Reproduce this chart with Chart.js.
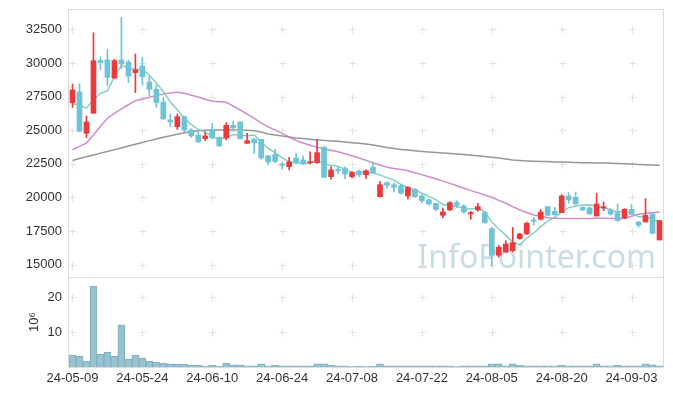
<!DOCTYPE html>
<html>
<head>
<meta charset="utf-8">
<script src="https://cdn.jsdelivr.net/npm/chart.js@4"></script>
<style>
  html, body { margin: 0; padding: 0; background: #fff; }
  #wrap { width: 673px; height: 396px; }
</style>
</head>
<body>
<div id="wrap"><canvas id="chart"></canvas></div>
<script>
// --- Data ---
const dates = [
  "24-05-09", "24-05-10", "24-05-13", "24-05-14", "24-05-16", "24-05-17", "24-05-20", "24-05-21", "24-05-22", "24-05-23",
  "24-05-24", "24-05-27", "24-05-28", "24-05-29", "24-05-30", "24-05-31", "24-06-03", "24-06-04", "24-06-05", "24-06-07",
  "24-06-10", "24-06-11", "24-06-12", "24-06-13", "24-06-14", "24-06-17", "24-06-18", "24-06-19", "24-06-20", "24-06-21",
  "24-06-24", "24-06-25", "24-06-26", "24-06-27", "24-06-28", "24-07-01", "24-07-02", "24-07-03", "24-07-04", "24-07-05",
  "24-07-08", "24-07-09", "24-07-10", "24-07-11", "24-07-12", "24-07-15", "24-07-16", "24-07-17", "24-07-18", "24-07-19",
  "24-07-22", "24-07-23", "24-07-24", "24-07-25", "24-07-26", "24-07-29", "24-07-30", "24-07-31", "24-08-01", "24-08-02",
  "24-08-05", "24-08-06", "24-08-07", "24-08-08", "24-08-09", "24-08-12", "24-08-13", "24-08-14", "24-08-16", "24-08-19",
  "24-08-20", "24-08-21", "24-08-22", "24-08-23", "24-08-26", "24-08-27", "24-08-28", "24-08-29", "24-08-30", "24-09-02",
  "24-09-03", "24-09-04", "24-09-05", "24-09-06", "24-09-09"
];

const opens = [
  27050, 27850, 24780, 26270, 30200, 30230, 28890, 30230, 30080, 29290,
  29780, 28590, 28050, 27100, 25770, 25270, 26010, 25020, 24630, 24380,
  25020, 24480, 24430, 25370, 25620, 24030, 24330, 24330, 23090, 23190,
  22490, 22290, 22940, 22790, 22590, 22590, 23740, 21550, 22100, 22140,
  21550, 21950, 21700, 22250, 20060, 21110, 20950, 20860, 20110, 20610,
  20110, 19820, 19570, 18680, 19070, 19620, 19370, 18780, 19070, 18870,
  17680, 15700, 15950, 16040, 16940, 17290, 18330, 18380, 19320, 18970,
  18870, 20110, 20010, 19270, 19220, 18620, 19220, 19020, 18870, 18480,
  19120, 18180, 18180, 18770, 16840
];
const highs = [
  28450, 28450, 26060, 32260, 30450, 31030, 30280, 33400, 30230, 30680,
  30430, 28990, 28350, 27460, 26210, 26210, 26050, 25120, 24970, 24870,
  25520, 24500, 25570, 25670, 25620, 24780, 24430, 24330, 23140, 23590,
  22590, 22990, 23290, 23090, 23390, 24330, 23790, 22290, 22290, 22290,
  21950, 22050, 22050, 22640, 21210, 21160, 21100, 21000, 20810, 20660,
  20210, 19910, 19570, 19220, 19670, 19760, 19470, 18970, 19570, 18970,
  17780, 16440, 16790, 17780, 17340, 18180, 18530, 19120, 19320, 19270,
  20210, 20360, 20410, 19320, 19320, 20310, 19670, 19170, 19520, 19170,
  19470, 18230, 19910, 18820, 18280
];
const lows = [
  26700, 24870, 24450, 26270, 29500, 28350, 28840, 29580, 28540, 27800,
  28350, 27550, 26710, 25800, 25270, 25070, 24900, 24480, 24080, 24230,
  24380, 23800, 24280, 24930, 24330, 24030, 23290, 22840, 22440, 22590,
  22100, 22050, 22490, 22440, 22490, 22540, 21500, 21360, 21750, 21400,
  21450, 21550, 21400, 21800, 20020, 20710, 20410, 20260, 19870, 20010,
  19620, 19420, 19020, 18480, 19020, 19270, 18820, 18380, 18970, 18080,
  14900, 15550, 15890, 15950, 16890, 17240, 17930, 18330, 18630, 18680,
  18870, 19570, 19470, 19020, 18770, 18620, 19020, 18680, 18230, 18430,
  18720, 17780, 18180, 17290, 16840
];
const closes = [
  28000, 24930, 25620, 30180, 30030, 28940, 30180, 29930, 29040, 29490,
  28990, 28050, 27050, 25860, 25620, 26010, 25020, 24580, 24130, 24580,
  24430, 23830, 25370, 25170, 24380, 24230, 24080, 22940, 22640, 22690,
  22400, 22640, 22590, 22490, 22640, 23340, 21500, 22050, 21990, 21750,
  21850, 21700, 22000, 21850, 20950, 20910, 20760, 20310, 20760, 20060,
  19760, 19520, 19120, 18920, 19620, 19420, 18920, 18870, 19320, 18130,
  15700, 16300, 16540, 16640, 17290, 18080, 18230, 18920, 18680, 18720,
  20110, 19820, 19520, 19070, 18770, 19520, 19320, 18770, 18280, 19120,
  18770, 17930, 18680, 17340, 18280
];

// moving averages as drawn (5 / 20 / 60 day)
const ma5 = [
  26950, 26900, 26650, 27250, 27750, 27940, 28990, 29850, 29620, 29520,
  29530, 29100, 28520, 27890, 27110, 26520, 25910, 25420, 25070, 24860,
  24550, 24310, 24470, 24680, 24640, 24600, 24650, 24160, 23650, 23320,
  22950, 22660, 22590, 22560, 22550, 22740, 22510, 22400, 22300, 22130,
  21830, 21870, 21860, 21830, 21670, 21480, 21290, 20960, 20740, 20560,
  20330, 20080, 19840, 19480, 19390, 19320, 19200, 19150, 19230, 18930,
  18190, 17660, 17200, 16660, 16490, 16970, 17360, 17830, 18240, 18530,
  18930, 19250, 19370, 19450, 19460, 19340, 19240, 19090, 18930, 19000,
  18850, 18570, 18560, 18370, 18200
];
const ma20 = [
  23550, 23800, 24050, 24650, 25300, 25900, 26250, 26600, 26900, 27200,
  27330, 27460, 27580, 27700, 27770, 27830, 27750, 27610, 27480, 27310,
  27160, 27120, 27080, 26800, 26510, 26200, 25880, 25560, 25250, 25010,
  24770, 24500, 24230, 24060, 23890, 23730, 23620, 23520, 23410, 23260,
  23110, 22940, 22760, 22590, 22420, 22250, 22160, 22080, 21990, 21840,
  21700, 21550, 21390, 21220, 21050, 20870, 20690, 20510, 20360, 20180,
  20010, 19790, 19570, 19320, 19070, 18880, 18700, 18600, 18500, 18460,
  18430, 18430, 18430, 18430, 18440, 18450, 18450, 18440, 18430, 18440,
  18600, 18750, 18820, 18870, 18920
];
const ma60 = [
  22760, 22895, 23030, 23160, 23300, 23420, 23560, 23690, 23830, 23960,
  24090, 24230, 24350, 24480, 24590, 24700, 24820, 24910, 24970, 25010,
  25020, 25020, 25020, 25020, 25020, 25010, 24970, 24880, 24730, 24650,
  24580, 24500, 24430, 24390, 24330, 24280, 24250, 24210, 24180, 24130,
  24080, 24030, 23980, 23900, 23810, 23720, 23640, 23580, 23530, 23480,
  23430, 23390, 23350, 23310, 23270, 23230, 23190, 23150, 23100, 23050,
  22990, 22930, 22860, 22790, 22750, 22720, 22700, 22680, 22670, 22650,
  22640, 22620, 22610, 22590, 22580, 22570, 22560, 22550, 22530, 22510,
  22490, 22460, 22440, 22420, 22400
];

// volume in millions
const volumes = [
  3.4, 3.1, 1.7, 23.2, 3.7, 4.3, 3.1, 12.1, 2.3, 3.4,
  2.6, 1.7, 1.4, 1.1, 0.9, 0.85, 0.85, 0.5, 0.5, 0.2,
  0.5, 0.2, 1.1, 0.6, 0.6, 0.3, 0.3, 0.9, 0.3, 0.5,
  0.3, 0.3, 0.3, 0.3, 0.3, 0.9, 0.9, 0.5, 0.3, 0.3,
  0.1, 0.25, 0.1, 0.25, 0.9, 0.3, 0.3, 0.3, 0.3, 0.3,
  0.3, 0.3, 0.3, 0.3, 0.3, 0.1, 0.3, 0.3, 0.3, 0.3,
  0.9, 0.9, 0.3, 0.9, 0.5, 0.3, 0.3, 0.3, 0.3, 0.3,
  0.5, 0.3, 0.3, 0.3, 0.3, 0.9, 0.3, 0.3, 0.5, 0.3,
  0.3, 0.3, 0.9, 0.6, 0.3
];

const priceTicks = [15000, 17500, 20000, 22500, 25000, 27500, 30000, 32500];
const volumeTicks = [10, 20];
const labelEvery = 10;

// --- Styles ---
const UP = "#ec3a3c";
const DOWN = "#6ec3d6";
const FONT = "'Liberation Sans', Arial, sans-serif";
const TEXT = "#333";

const candleColors = closes.map((c, i) => (c >= opens[i] ? UP : DOWN));

// fixed axis box sizes so the plot area lines up with the reference
function fitY(s) {
  s.width = 69;
  s.paddingTop = 0;
  s.paddingBottom = 0;
}

// --- Decorations: watermark, "+" grid marks, frame ---
const decor = {
  id: "decor",
  beforeDatasetsDraw(chart) {
    const { ctx, scales } = chart;
    ctx.save();
    // watermark
    ctx.font = "32px 'Noto Sans', sans-serif";
    ctx.fillStyle = "rgba(188,211,224,0.8)";
    ctx.textAlign = "right";
    ctx.textBaseline = "alphabetic";
    ctx.fillText("InfoPointer.com", 656, 268);

    // grid crosses
    ctx.strokeStyle = "#e2e2e2";
    ctx.lineWidth = 1;
    const xs = [];
    for (let i = 0; i < dates.length; i += labelEvery) xs.push(Math.round(scales.x.getPixelForValue(i)) + 0.5);
    const ys = priceTicks.map((v) => scales.y.getPixelForValue(v))
      .concat(volumeTicks.map((v) => scales.yv.getPixelForValue(v)));
    ctx.beginPath();
    xs.forEach((x) => {
      ys.forEach((yy) => {
        const y = Math.round(yy) + 0.5;
        ctx.moveTo(x - 3, y);
        ctx.lineTo(x + 4, y);
        ctx.moveTo(x, y - 3);
        ctx.lineTo(x, y + 4);
      });
    });
    ctx.stroke();
    ctx.restore();
  },
  afterDatasetsDraw(chart) {
    const { ctx, chartArea: a, scales } = chart;
    ctx.save();
    ctx.strokeStyle = "#dcdcdc";
    ctx.lineWidth = 1;
    ctx.strokeRect(Math.round(a.left) - 0.5, Math.round(a.top) - 0.5, Math.round(a.right - a.left) + 1, Math.round(a.bottom - a.top) + 1);
    const sep = Math.round(scales.y.bottom) + 0.5;
    ctx.beginPath();
    ctx.moveTo(a.left, sep);
    ctx.lineTo(a.right, sep);
    ctx.stroke();
    ctx.restore();
  },
};

// --- Chart.js Setup ---
const ctx = document.getElementById("chart");
const chart = new Chart(ctx, {
  data: {
    labels: dates,
    datasets: [
      {
        type: "bar",
        label: "Body",
        data: dates.map((d, i) => [opens[i], closes[i]]),
        backgroundColor: candleColors,
        barThickness: 5,
        minBarLength: 1,
        grouped: false,
        yAxisID: "y",
        order: 0,
      },
      {
        type: "bar",
        label: "Wick",
        data: dates.map((d, i) => [lows[i], highs[i]]),
        backgroundColor: candleColors,
        barThickness: 1,
        grouped: false,
        yAxisID: "y",
        order: 1,
      },
      {
        type: "line",
        label: "MA5",
        data: ma5,
        borderColor: "rgba(122,202,184,0.9)",
        borderWidth: 1.5,
        pointRadius: 0,
        yAxisID: "y",
        order: 2,
      },
      {
        type: "line",
        label: "MA20",
        data: ma20,
        borderColor: "rgba(200,130,196,0.9)",
        borderWidth: 1.5,
        pointRadius: 0,
        yAxisID: "y",
        order: 3,
      },
      {
        type: "line",
        label: "MA60",
        data: ma60,
        borderColor: "rgba(140,140,140,0.9)",
        borderWidth: 1.5,
        pointRadius: 0,
        yAxisID: "y",
        order: 4,
      },
      {
        type: "bar",
        label: "Volume",
        data: volumes,
        backgroundColor: "#98c1d2",
        borderColor: "#7faec2",
        borderWidth: 1,
        barPercentage: 1,
        categoryPercentage: 1,
        grouped: false,
        yAxisID: "yv",
        order: 5,
      },
    ],
  },
  options: {
    responsive: true,
    maintainAspectRatio: false,
    animation: false,
    layout: { padding: { top: 10, right: 10, left: 0, bottom: 0 } },
    plugins: {
      legend: { display: false },
      tooltip: { enabled: false },
    },
    scales: {
      x: {
        type: "category",
        offset: true,
        grid: { display: false, drawTicks: false },
        border: { display: false },
        ticks: {
          autoSkip: false,
          maxRotation: 0,
          padding: 4,
          color: TEXT,
          font: { family: FONT, size: 13 },
          callback: (v, i) => (i % labelEvery === 0 ? dates[i] : null),
        },
        afterFit: (s) => {
          s.height = 29;
          s.paddingLeft = 0;
          s.paddingRight = 0;
        },
      },
      // volume panel listed first so the stack puts it under the price panel
      yv: {
        type: "linear",
        position: "left",
        stack: "panels",
        stackWeight: 90,
        min: 0,
        max: 25.8,
        grid: { display: false, drawTicks: false },
        border: { display: false },
        afterBuildTicks: (s) => { s.ticks = volumeTicks.map((v) => ({ value: v })); },
        ticks: {
          padding: 7,
          color: TEXT,
          font: { family: FONT, size: 13 },
          callback: (v) => String(v),
        },
        title: {
          display: true,
          text: "10⁶",
          color: TEXT,
          font: { family: FONT, size: 13 },
          padding: { top: 27, bottom: 0 },
        },
        afterFit: fitY,
      },
      y: {
        type: "linear",
        position: "left",
        stack: "panels",
        stackWeight: 267,
        min: 14085,
        max: 33950,
        grid: { display: false, drawTicks: false },
        border: { display: false },
        afterBuildTicks: (s) => { s.ticks = priceTicks.map((v) => ({ value: v })); },
        ticks: {
          padding: 7,
          color: TEXT,
          font: { family: FONT, size: 13 },
          callback: (v) => String(v),
        },
        afterFit: fitY,
      },
    },
  },
  plugins: [decor],
});
</script>
</body>
</html>
